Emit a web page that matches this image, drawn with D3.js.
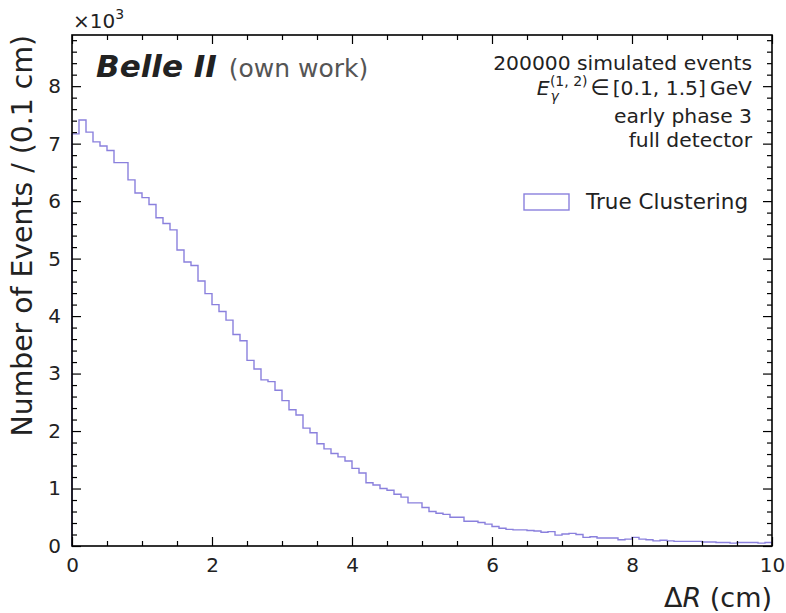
<!DOCTYPE html>
<html>
<head>
<meta charset="utf-8">
<script src="https://cdn.jsdelivr.net/npm/d3@7.9.0/dist/d3.min.js"></script>
<style>
  body { margin: 0; background: #fff; }
  svg { display: block; font-family: "DejaVu Sans", sans-serif; }
</style>
</head>
<body>
<svg id="chart" width="786" height="613"></svg>
<script>
// bin edges 0..10 cm in 0.1 cm steps, counts in units of 10^3
const binWidth = 0.1;
const counts = [
  7.17, 7.41, 7.20, 7.03, 6.96, 6.88, 6.67, 6.67, 6.37, 6.14,
  6.06, 5.94, 5.71, 5.61, 5.50, 5.15, 4.94, 4.88, 4.61, 4.39,
  4.20, 4.08, 3.93, 3.68, 3.57, 3.23, 3.08, 2.89, 2.86, 2.71,
  2.53, 2.37, 2.28, 2.05, 1.97, 1.78, 1.69, 1.61, 1.55, 1.48,
  1.35, 1.27, 1.10, 1.06, 1.00, 0.97, 0.90, 0.85, 0.75, 0.75,
  0.67, 0.60, 0.57, 0.55, 0.50, 0.50, 0.43, 0.43, 0.41, 0.38,
  0.34, 0.31, 0.29, 0.28, 0.28, 0.27, 0.26, 0.24, 0.25, 0.19,
  0.21, 0.22, 0.20, 0.15, 0.16, 0.14, 0.14, 0.14, 0.11, 0.12,
  0.15, 0.12, 0.11, 0.09, 0.10, 0.09, 0.08, 0.08, 0.08, 0.08,
  0.07, 0.07, 0.06, 0.06, 0.05, 0.06, 0.06, 0.06, 0.05, 0.06
];
const xMajor = [0, 2, 4, 6, 8, 10];
const yMajor = [0, 1, 2, 3, 4, 5, 6, 7, 8];
const infoLines = ['200000 simulated events', 'E', 'early phase 3', 'full detector'];
const seriesName = 'True Clustering';

const color = '#8a80dd';
const margin = { top: 35, right: 14, bottom: 67, left: 72 };
const W = 786, H = 613;
const iw = W - margin.left - margin.right;
const ih = H - margin.top - margin.bottom;

const svg = d3.select('#chart');
const g = svg.append('g').attr('transform', `translate(${margin.left},${margin.top})`);

const x = d3.scaleLinear().domain([0, 10]).range([0, iw]);
const y = d3.scaleLinear().domain([0, 8.89]).range([ih, 0]);

// histogram step outline
const pts = [[0, 0]];
counts.forEach((c, i) => {
  pts.push([i * binWidth, c]);
  pts.push([(i + 1) * binWidth, c]);
});
pts.push([counts.length * binWidth, 0]);
g.append('path')
  .datum(pts)
  .attr('fill', 'none')
  .attr('stroke', color)
  .attr('stroke-width', 1.4)
  .attr('d', d3.line().x(d => x(d[0])).y(d => y(d[1])));

// axes with inward ticks on all sides
const xMinor = d3.range(0, 10.01, 0.5).filter(v => !xMajor.includes(v));
const yMinor = d3.range(0, 8.81, 0.2).map(v => +v.toFixed(1)).filter(v => !yMajor.includes(v));

function styleAxis(sel) {
  sel.select('.domain').remove();
  sel.selectAll('line').attr('stroke', '#000').attr('stroke-width', 1.2);
  sel.selectAll('text').attr('font-size', 20).attr('fill', '#222')
    .attr('font-family', '"DejaVu Sans", sans-serif');
}

g.append('g').attr('transform', `translate(0,${ih})`)
  .call(d3.axisBottom(x).tickValues(xMajor).tickSize(-9).tickPadding(12).tickFormat(d3.format('d')))
  .call(styleAxis);
g.append('g').attr('transform', `translate(0,${ih})`)
  .call(d3.axisBottom(x).tickValues(xMinor).tickSize(-5).tickFormat(''))
  .call(styleAxis);
g.append('g')
  .call(d3.axisTop(x).tickValues(xMajor).tickSize(-9).tickFormat(''))
  .call(styleAxis);
g.append('g')
  .call(d3.axisTop(x).tickValues(xMinor).tickSize(-5).tickFormat(''))
  .call(styleAxis);

g.append('g')
  .call(d3.axisLeft(y).tickValues(yMajor).tickSize(-9).tickPadding(11).tickFormat(d3.format('d')))
  .call(styleAxis);
g.append('g')
  .call(d3.axisLeft(y).tickValues(yMinor).tickSize(-5).tickFormat(''))
  .call(styleAxis);
g.append('g').attr('transform', `translate(${iw},0)`)
  .call(d3.axisRight(y).tickValues(yMajor).tickSize(-9).tickFormat(''))
  .call(styleAxis);
g.append('g').attr('transform', `translate(${iw},0)`)
  .call(d3.axisRight(y).tickValues(yMinor).tickSize(-5).tickFormat(''))
  .call(styleAxis);

g.append('rect')
  .attr('width', iw).attr('height', ih)
  .attr('fill', 'none').attr('stroke', '#000').attr('stroke-width', 1.6);

// axis labels
svg.append('text')
  .attr('transform', `translate(32,${margin.top}) rotate(-90)`)
  .attr('text-anchor', 'end')
  .attr('font-size', 28.3).attr('fill', '#222')
  .text('Number of Events / (0.1 cm)');

const xl = svg.append('text')
  .attr('x', margin.left + iw).attr('y', 607)
  .attr('text-anchor', 'end')
  .attr('font-size', 27).attr('fill', '#222');
xl.append('tspan').text('Δ');
xl.append('tspan').attr('font-style', 'italic').text('R');
xl.append('tspan').text(' (cm)');

// offset label
const off = svg.append('text')
  .attr('x', 73).attr('y', 28)
  .attr('font-size', 20).attr('fill', '#222');
off.append('tspan').text('×10');
off.append('tspan').attr('font-size', 14).attr('dy', -9).text('3');

// experiment label
const bl = svg.append('text').attr('x', 96).attr('y', 77).attr('fill', '#222');
bl.append('tspan').attr('font-size', 31).attr('font-weight', 'bold').attr('font-style', 'italic').text('Belle II');
bl.append('tspan').attr('font-size', 25).attr('fill', '#555').attr('dx', 12).text('(own work)');

// info text, right aligned
const infoX = 752;
const infoY = [70, 95, 123, 147];
infoLines.forEach((s, i) => {
  const t = svg.append('text')
    .attr('x', infoX).attr('y', infoY[i])
    .attr('text-anchor', 'end')
    .attr('font-size', 20.3).attr('fill', '#222');
  if (s === 'E') {
    t.append('tspan').attr('font-style', 'italic').text('E');
    t.append('tspan').attr('font-style', 'italic').attr('font-size', 14).attr('dy', 6).attr('dx', 1).text('γ');
    t.append('tspan').attr('font-size', 14).attr('dy', -15).attr('dx', -9).text('(1, 2)');
    t.append('tspan').attr('font-size', 22).attr('dy', 9).attr('dx', 3).text('∈');
    t.append('tspan').attr('dx', 3).text('[0.1, 1.5]');
    t.append('tspan').attr('dx', 4).text('GeV');
  } else {
    t.text(s);
  }
});

// legend
svg.append('rect')
  .attr('x', 524).attr('y', 194).attr('width', 45).attr('height', 16)
  .attr('fill', 'none').attr('stroke', color).attr('stroke-width', 1.4);
svg.append('text')
  .attr('x', 586).attr('y', 209)
  .attr('font-size', 21.5).attr('fill', '#222')
  .text(seriesName);
</script>
</body>
</html>
